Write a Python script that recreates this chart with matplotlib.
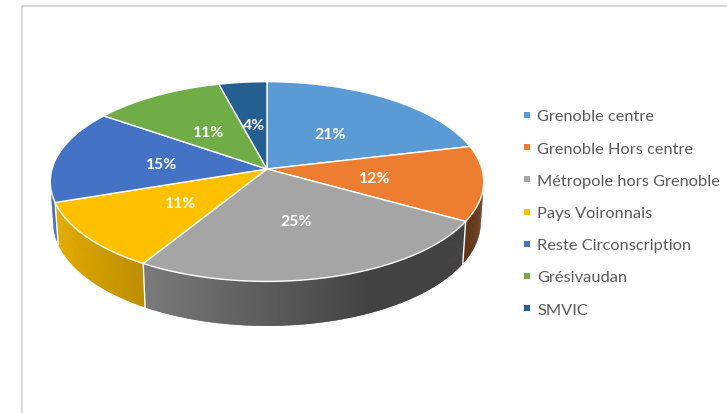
import numpy as np
import matplotlib
matplotlib.use("Agg")
import matplotlib.pyplot as plt
from matplotlib.patches import Polygon, Rectangle
from matplotlib.colors import to_rgb

# ---- data ----
categories = ["Grenoble centre", "Grenoble Hors centre", "Métropole hors Grenoble",
              "Pays Voironnais", "Reste Circonscription", "Grésivaudan", "SMVIC"]
values = [21, 12, 25, 11, 15, 11, 4]
colors = ["#5B9BD5", "#ED7D31", "#A5A5A5", "#FFC000", "#4472C4", "#70AD47", "#255E91"]

# ---- 3D pie geometry (perspective) ----
W, H = 727, 414
CX, CY = 267.0, 170.0   # screen position of pie centre
KR = 215.0              # radius scale in px
PHI = np.radians(27.2)  # elevation of view
DIST = 7.08             # camera distance / radius
THICK = 0.215           # thickness / radius


def proj(theta, r=1.0, z=0.0):
    X = r * np.cos(theta)
    Y = r * np.sin(theta)
    v = Y * np.sin(PHI) + z * np.cos(PHI)
    w = Y * np.cos(PHI) - z * np.sin(PHI)
    s = DIST / (DIST + w)
    return CX + s * X * KR, CY - s * v * KR


fig = plt.figure(figsize=(W / 100, H / 100), dpi=100)
ax = fig.add_axes([0, 0, 1, 1])
ax.set_xlim(0, W)
ax.set_ylim(H, 0)
ax.axis("off")

# chart border
ax.plot([21.5, 21.5, W + 5], [H + 5, 6.5, 6.5], color="#D9D9D9", lw=1.4, solid_capstyle="butt")

vals = np.array(values, dtype=float)
frac = vals / vals.sum()
cum = np.concatenate([[0], np.cumsum(frac)])
starts = np.pi / 2 - 2 * np.pi * cum[:-1]
ends = np.pi / 2 - 2 * np.pi * cum[1:]

vis_lim = -1.0 / (DIST * np.cos(PHI))  # side visible where sin(theta) < vis_lim


def shade(theta):
    c = np.cos(theta)
    return np.clip(0.555 - 0.36 * c, 0.40, 0.88)


# side walls (overlapping thin facets give a smooth gradient)
step = np.radians(0.5)
boundary_lines = []
for s0, e0, col in zip(starts, ends, colors):
    n = max(int(abs(s0 - e0) / step), 2)
    th = np.linspace(s0, e0, n + 1)
    base = np.array(to_rgb(col))
    for k, (a, b) in enumerate(zip(th[:-1], th[1:])):
        mid = 0.5 * (a + b)
        if np.sin(mid) < vis_lim:
            bb = b if k == n - 1 else b - 0.8 * step  # overlap into next facet
            xa, ya = proj(a)
            xb, yb = proj(bb)
            xa2, ya2 = proj(a, z=-THICK)
            xb2, yb2 = proj(bb, z=-THICK)
            ax.add_patch(Polygon([(xa, ya), (xb, yb), (xb2, yb2), (xa2, ya2)], closed=True,
                                 facecolor=tuple(base * shade(mid)), edgecolor="none", zorder=2))
    if np.sin(s0) < vis_lim:
        boundary_lines.append(s0)

for t in boundary_lines:
    x1, y1 = proj(t)
    x2, y2 = proj(t, z=-THICK)
    ax.plot([x1, x2], [y1, y2], color="white", lw=1.0, zorder=3)

# top wedges
for s0, e0, col in zip(starts, ends, colors):
    th = np.linspace(s0, e0, 120)
    pts = [proj(0, r=0)] + [proj(t) for t in th]
    ax.add_patch(Polygon(pts, closed=True, facecolor=col, edgecolor="white",
                         lw=1.0, joinstyle="round", zorder=4))

# labels
for s0, e0, f in zip(starts, ends, frac):
    mid = 0.5 * (s0 + e0)
    x, y = proj(mid, r=0.5)
    ax.text(x, y + 1.5, f"{round(f * 100):.0f}%", color="white", fontsize=11.3,
            fontweight="bold", family="Lato", ha="center", va="center", zorder=5)

# legend
leg_x, leg_y0, leg_dy = 527, 116, 32.2
for i, (cat, col) in enumerate(zip(categories, colors)):
    y = leg_y0 + i * leg_dy
    ax.add_patch(Rectangle((leg_x - 3, y - 3), 6, 6, facecolor=col, edgecolor="none", zorder=5))
    ax.text(leg_x + 10, y + 1.5, cat, color="#595959", fontsize=11.8, family="Lato",
            ha="left", va="center", zorder=5)

fig.savefig("out.png", dpi=100)
